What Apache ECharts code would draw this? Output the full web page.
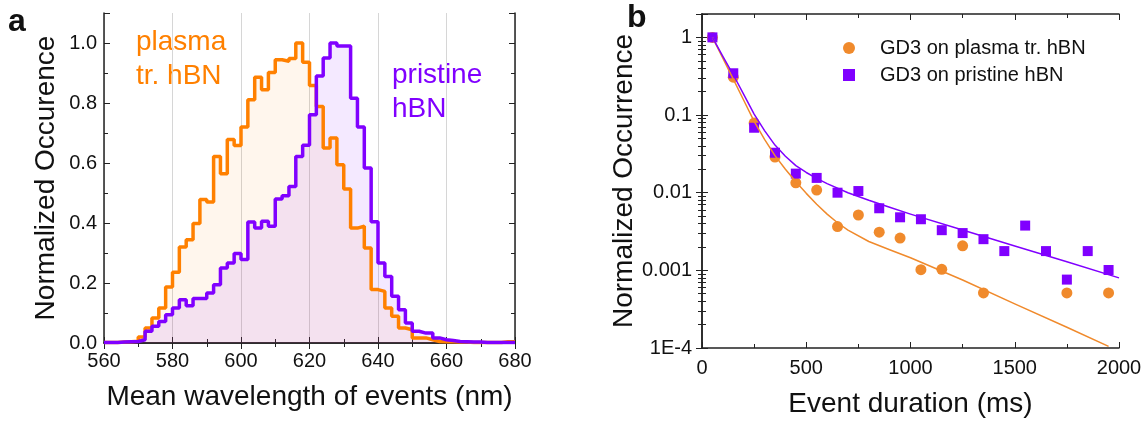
<!DOCTYPE html>
<html>
<head>
<meta charset="utf-8">
<script src="https://cdn.jsdelivr.net/npm/echarts@6/dist/echarts.min.js"></script>
<style>
  html, body { margin: 0; padding: 0; background: #fff; }
  #chart { width: 1147px; height: 423px; }
</style>
</head>
<body>
<div id="chart"></div>
<script>
// --- panel a: histogram of mean wavelength (2 nm bins, left edges)
var binStart = [560, 562, 564, 566, 568, 570, 572, 574, 576, 578,
  580, 582, 584, 586, 588, 590, 592, 594, 596, 598,
  600, 602, 604, 606, 608, 610, 612, 614, 616, 618,
  620, 622, 624, 626, 628, 630, 632, 634, 636, 638,
  640, 642, 644, 646, 648, 650, 652, 654, 656, 658,
  660, 662, 664, 666, 668, 670, 672, 674, 676, 678, 680]
var plasmaHist = [0.002, 0.002, 0.003, 0.004, 0.006, 0.02, 0.05, 0.083, 0.117, 0.187,
  0.236, 0.32, 0.344, 0.398, 0.478, 0.47, 0.622, 0.564, 0.678, 0.658,
  0.72, 0.811, 0.886, 0.844, 0.902, 0.944, 0.939, 0.948, 1.0, 0.936,
  0.858, 0.788, 0.65, 0.683, 0.594, 0.513, 0.383, 0.389, 0.317, 0.178,
  0.172, 0.117, 0.089, 0.05, 0.044, 0.017, 0.017, 0.011, 0.005, 0.004,
  0.004, 0.003, 0.003, 0.002, 0.002, 0.002, 0.002, 0.002, 0.004, 0.004, 0.004]
var pristineHist = [0.002, 0.002, 0.003, 0.004, 0.005, 0.011, 0.039, 0.056, 0.072, 0.094,
  0.117, 0.144, 0.124, 0.148, 0.148, 0.167, 0.194, 0.25, 0.267, 0.298,
  0.278, 0.403, 0.383, 0.406, 0.389, 0.48, 0.491, 0.522, 0.622, 0.659,
  0.761, 0.89, 0.95, 1.0, 0.99, 0.99, 0.816, 0.72, 0.583, 0.404,
  0.267, 0.222, 0.156, 0.111, 0.067, 0.039, 0.033, 0.033, 0.017, 0.011,
  0.008, 0.005, 0.004, 0.003, 0.003, 0.002, 0.002, 0.002, 0.002, 0.002, 0.002]

// --- panel b: event duration distribution (log scale)
var plasmaDur = [50, 150, 250, 350, 450, 550, 650, 750, 850, 950, 1050, 1150, 1250, 1350, 1750, 1950]
var plasmaOcc = [1, 0.307, 0.0788, 0.0288, 0.0134, 0.0108, 0.00366, 0.00516, 0.0031, 0.0026, 0.00102, 0.00103, 0.00207, 0.000512, 0.000512, 0.000512]
var pristineDur = [50, 150, 250, 350, 450, 550, 650, 750, 850, 950, 1050, 1150, 1250, 1350, 1450, 1550, 1650, 1750, 1850, 1950]
var pristineOcc = [1, 0.345, 0.0686, 0.0327, 0.0176, 0.0155, 0.01, 0.0105, 0.0063, 0.00482, 0.00455, 0.00329, 0.00302, 0.00252, 0.00177, 0.00377, 0.00177, 0.00076, 0.00177, 0.00101]
// fitted curves
var plasmaFitX = [50, 100, 150, 200, 250, 300, 350, 400, 450, 500, 550, 600, 650, 700, 800, 900, 1000, 1250, 1500, 1750, 1950]
var plasmaFitY = [1, 0.54, 0.29, 0.155, 0.083, 0.0485, 0.03, 0.02, 0.0138, 0.0098, 0.0071, 0.0053, 0.0041, 0.0033, 0.00235, 0.00184, 0.00145, 0.00075, 0.00037, 0.000185, 0.000105]
var pristineFitX = [50, 100, 150, 200, 250, 300, 350, 400, 450, 500, 550, 600, 700, 800, 900, 1000, 1250, 1500, 1750, 2000]
var pristineFitY = [1, 0.57, 0.33, 0.185, 0.103, 0.063, 0.041, 0.0295, 0.0223, 0.0182, 0.0153, 0.0131, 0.01, 0.008, 0.0065, 0.0053, 0.0033, 0.00206, 0.00129, 0.0008]

var ORANGE = '#ff8000'
var PURPLE = '#8000ff'
var DOT_ORANGE = '#f08a2c'
var FONT = 'Liberation Sans, Arial, sans-serif'

function zip (xs, ys) {
  return xs.map(function (x, i) { return [x, ys[i]] })
}

var chart = echarts.init(document.getElementById('chart'))

var tickStyle = { inside: true, length: 6, lineStyle: { color: '#222', width: 1 } }
var minorStyle = { show: true, length: 4, lineStyle: { color: '#222', width: 1 } }
var lineStyle = { lineStyle: { color: '#222', width: 1.5 } }
var labelStyle = { fontFamily: FONT, fontSize: 20, color: '#111' }
var nameStyle = { fontFamily: FONT, fontSize: 28, color: '#111' }

function mirror (base, pos) {
  return Object.assign({}, base, {
    position: pos,
    name: '',
    axisLabel: { show: false },
    splitLine: { show: false }
  })
}

var xA = {
  type: 'value', gridIndex: 0, min: 560, max: 680, interval: 20,
  axisLine: lineStyle, axisTick: tickStyle,
  minorTick: Object.assign({ splitNumber: 2 }, minorStyle),
  axisLabel: Object.assign({ margin: 8 }, labelStyle),
  splitLine: { show: true, lineStyle: { color: '#d6d6d6', width: 1 } },
  name: 'Mean wavelength of events (nm)', nameLocation: 'middle', nameGap: 40,
  nameTextStyle: nameStyle
}
var yA = {
  type: 'value', gridIndex: 0, min: 0, max: 1.1, interval: 0.2,
  axisLine: lineStyle, axisTick: tickStyle,
  minorTick: Object.assign({ splitNumber: 2 }, minorStyle),
  axisLabel: Object.assign({
    margin: 7, showMaxLabel: false,
    formatter: function (v) { return v.toFixed(1) }
  }, labelStyle),
  splitLine: { show: false },
  name: 'Normalized Occurence', nameLocation: 'middle', nameGap: 44,
  nameTextStyle: nameStyle
}
var xB = {
  type: 'value', gridIndex: 1, min: 0, max: 2000, interval: 500,
  axisLine: lineStyle, axisTick: tickStyle,
  minorTick: Object.assign({ splitNumber: 2 }, minorStyle),
  axisLabel: Object.assign({
    margin: 10,
    formatter: function (v) { return String(v) }
  }, labelStyle),
  splitLine: { show: false },
  name: 'Event duration (ms)', nameLocation: 'middle', nameGap: 42,
  nameTextStyle: nameStyle
}
var yB = {
  type: 'log', logBase: 10, gridIndex: 1, min: 0.0001, max: 2,
  axisLine: lineStyle, axisTick: tickStyle,
  minorTick: Object.assign({ splitNumber: 9 }, minorStyle),
  axisLabel: Object.assign({
    margin: 10,
    formatter: function (v) {
      var l = Math.log10(v)
      var e = Math.round(l)
      if (Math.abs(l - e) > 1e-6) return ''
      if (e === 0) return '1'
      if (e >= -3) return v.toFixed(-e)
      return '1E-' + (-e)
    }
  }, labelStyle),
  splitLine: { show: false },
  name: 'Normalized Occurrence', nameLocation: 'middle', nameGap: 64,
  nameTextStyle: nameStyle
}

var option = {
  animation: false,
  textStyle: { fontFamily: FONT },
  grid: [
    { left: 104, top: 13, width: 411, height: 330 },
    { left: 702, top: 14, width: 417, height: 336 }
  ],
  xAxis: [xA, mirror(xA, 'top'), xB, mirror(xB, 'top')],
  yAxis: [yA, mirror(yA, 'right'), yB, mirror(yB, 'right')],
  legend: {
    orient: 'vertical', left: 838, top: 33,
    itemWidth: 12, itemHeight: 12, itemGap: 7,
    textStyle: { fontFamily: FONT, fontSize: 20, color: '#111', padding: [0, 0, 0, 20] },
    data: [
      { name: 'GD3 on plasma tr. hBN', icon: 'circle' },
      { name: 'GD3 on pristine hBN', icon: 'rect' }
    ]
  },
  graphic: [
    { type: 'text', left: 8, top: 6, style: { text: 'a', font: 'bold 32px ' + FONT, fill: '#111' } },
    { type: 'text', left: 627, top: 2, style: { text: 'b', font: 'bold 32px ' + FONT, fill: '#111' } },
    { type: 'text', left: 136, top: 25, style: { text: 'plasma\ntr. hBN', font: '28px ' + FONT, lineHeight: 34, fill: ORANGE } },
    { type: 'text', left: 392, top: 58, style: { text: 'pristine\nhBN', font: '28px ' + FONT, lineHeight: 34, fill: PURPLE } }
  ],
  series: [
    {
      name: 'plasma hist', type: 'line', step: 'end', xAxisIndex: 0, yAxisIndex: 0,
      data: zip(binStart, plasmaHist), symbol: 'none',
      lineStyle: { color: ORANGE, width: 3.5 },
      areaStyle: { color: 'rgba(255,128,0,0.1)' }
    },
    {
      name: 'pristine hist', type: 'line', step: 'end', xAxisIndex: 0, yAxisIndex: 0,
      data: zip(binStart, pristineHist), symbol: 'none',
      lineStyle: { color: PURPLE, width: 3.5 },
      areaStyle: { color: 'rgba(128,0,255,0.12)' }
    },
    {
      name: 'plasma fit', type: 'line', xAxisIndex: 2, yAxisIndex: 2,
      data: zip(plasmaFitX, plasmaFitY), smooth: false, symbol: 'none',
      lineStyle: { color: DOT_ORANGE, width: 1.5, join: 'round' }
    },
    {
      name: 'pristine fit', type: 'line', xAxisIndex: 2, yAxisIndex: 2,
      data: zip(pristineFitX, pristineFitY), smooth: false, symbol: 'none',
      lineStyle: { color: PURPLE, width: 1.5, join: 'round' }
    },
    {
      name: 'GD3 on plasma tr. hBN', type: 'scatter', xAxisIndex: 2, yAxisIndex: 2,
      data: zip(plasmaDur, plasmaOcc), symbol: 'circle', symbolSize: 11,
      itemStyle: { color: DOT_ORANGE, opacity: 1 }
    },
    {
      name: 'GD3 on pristine hBN', type: 'scatter', xAxisIndex: 2, yAxisIndex: 2,
      data: zip(pristineDur, pristineOcc), symbol: 'rect', symbolSize: 10,
      itemStyle: { color: PURPLE, opacity: 1 }
    }
  ]
}

chart.setOption(option)
</script>
</body>
</html>
